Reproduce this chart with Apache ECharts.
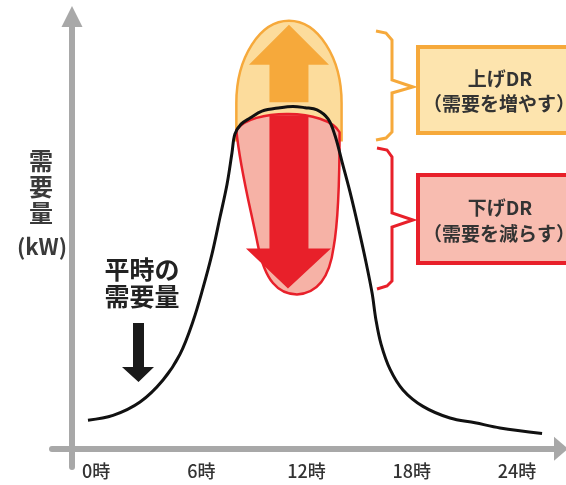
<!DOCTYPE html>
<html>
<head>
<meta charset="utf-8">
<script src="https://cdn.jsdelivr.net/npm/echarts@6/dist/echarts.min.js"></script>
<style>
html,body{margin:0;padding:0;background:#fff;}
#chart{width:566px;height:485px;}
</style>
</head>
<body>
<div id="chart"></div>
<script>
// ---- data (hours, demand in arbitrary kW units) ----
const hours  = [-0.46, 0.97, 2.51, 3.82, 4.79, 5.53, 6.10, 6.61, 7.07, 7.47, 7.75, 7.92, 8.27, 8.78, 9.46, 10.49, 11.23, 11.92, 12.60, 13.23, 13.63, 14.03, 14.48, 14.94, 15.39, 15.74, 15.96, 16.25, 16.76, 17.50, 18.64, 20.18, 21.61, 23.03, 25.43];
const demand = [6.6, 7.7, 10.8, 15.9, 21.9, 29.5, 37.2, 45.0, 53.6, 61.2, 68.4, 72.8, 75.1, 76.5, 78.1, 78.9, 79.2, 78.9, 78.4, 76.3, 72.4, 66.3, 59.4, 51.5, 43.2, 36.0, 29.8, 24.2, 18.4, 13.6, 9.8, 7.1, 6.0, 4.8, 3.5];
const tickHours = [0, 6, 12, 18, 24];
const drWindow = [8, 14];      // hours covered by the DR shapes
const upDR = [79, 99];         // 上げDR range (kW)
const downDR = [35, 79];       // 下げDR range (kW)

const chart = echarts.init(document.getElementById('chart'), null, {renderer: 'canvas'});
const AX = '#a8a8a8';
const FONT = '"Noto Sans CJK JP", "Noto Sans", sans-serif';

function renderDR(params, api) {
  const xL = api.coord([drWindow[0], 0])[0];
  const xR = api.coord([drWindow[1], 0])[0];
  const cx = (xL + xR) / 2;
  const rx = (xR - xL) / 2;
  const yTop = api.coord([0, upDR[1]])[1];
  const yPk = api.coord([0, upDR[0]])[1];
  const yBot = api.coord([0, downDR[0]])[1];
  const k = 0.5523;
  const cy = yTop + 0.95 * (yPk - yTop);
  const ry = cy - yTop;
  const ySide = yPk + 33;
  const orangePath = 'M' + xL + ' ' + ySide + ' L' + xL + ' ' + cy +
    ' C' + xL + ' ' + (cy - k * ry) + ' ' + (cx - k * rx) + ' ' + yTop + ' ' + cx + ' ' + yTop +
    ' C' + (cx + k * rx) + ' ' + yTop + ' ' + xR + ' ' + (cy - k * ry) + ' ' + xR + ' ' + cy +
    ' L' + xR + ' ' + ySide + ' Z';
  const redPath = 'M' + xL + ' ' + (yPk + 23) +
    ' C' + (xL + 14) + ' ' + (yPk + 1) + ' ' + (xR - 15) + ' ' + (yPk + 1) + ' ' + (xR - 2) + ' ' + (yPk + 25) +
    ' C' + (xR - 2) + ' ' + (yPk + 73) + ' ' + (xR - 4) + ' ' + (yPk + 118) + ' ' + (xR - 8) + ' ' + (yBot - 50) +
    ' C' + (xR - 12) + ' ' + (yBot - 20) + ' ' + (cx + 29) + ' ' + (yBot - 4) + ' ' + (cx + 8) + ' ' + (yBot - 3) +
    ' C' + (cx - 11) + ' ' + (yBot - 3) + ' ' + (cx - 24) + ' ' + (yBot - 17) + ' ' + (cx - 31) + ' ' + (yBot - 52) +
    ' C' + (cx - 39) + ' ' + (yBot - 92) + ' ' + (xL + 4) + ' ' + (yPk + 63) + ' ' + xL + ' ' + (yPk + 23) + ' Z';
  const sw = 19.5;
  const upHeadBase = yTop + 44;
  const dnHeadBase = yBot - 49;
  return {
    type: 'group',
    children: [
      {type: 'path', shape: {pathData: orangePath}, style: {fill: '#fcdc9c', stroke: '#f6a93b', lineWidth: 2.5}},
      {type: 'polygon', shape: {points: [[cx - sw, yPk - 5], [cx - sw, upHeadBase], [cx - 40, upHeadBase], [cx, yTop + 4], [cx + 40, upHeadBase], [cx + sw, upHeadBase], [cx + sw, yPk - 5]]}, style: {fill: '#f6a93b'}},
      {type: 'path', shape: {pathData: redPath}, style: {fill: '#f6b2a6', stroke: '#e8202a', lineWidth: 2.5}},
      {type: 'polygon', shape: {points: [[cx - sw, yPk + 8], [cx - sw, dnHeadBase], [cx - 43, dnHeadBase], [cx - 1, yBot - 9], [cx + 42, dnHeadBase], [cx + sw, dnHeadBase], [cx + sw, yPk + 8]]}, style: {fill: '#e8202a'}}
    ]
  };
}

const txt = (t, x, y, size, fill, align) => ({
  type: 'text', x: x, y: y, z: 20,
  style: {text: t, fill: fill || '#333', font: 'bold ' + size + 'px ' + FONT, textAlign: align || 'center', textVerticalAlign: 'middle'}
});

const option = {
  backgroundColor: '#fff',
  animation: false,
  grid: {left: 52, right: 5, top: 16.5, bottom: 18, containLabel: false, outerBoundsMode: 'none'},
  xAxis: {
    type: 'value', min: -2.51, max: 26.51,
    axisLine: {show: true, onZero: true, symbol: ['none', 'triangle'], symbolSize: [24, 14], lineStyle: {color: AX, width: 6}},
    axisTick: {show: false},
    splitLine: {show: false},
    axisLabel: {customValues: tickHours, formatter: v => v + '時', fontSize: 18, fontFamily: FONT, color: '#333', margin: -5, fontWeight: 500}
  },
  yAxis: {
    type: 'value', min: -4.23, max: 100, position: 'left', offset: -20,
    axisLine: {show: true, onZero: false, symbol: ['none', 'triangle'], symbolSize: [21, 21], lineStyle: {color: AX, width: 6}},
    axisTick: {show: false}, axisLabel: {show: false}, splitLine: {show: false}
  },
  series: [
    {type: 'custom', coordinateSystem: 'cartesian2d', data: [[drWindow[0], upDR[1]]], renderItem: renderDR, silent: true, z: 2, clip: false},
    {type: 'line', data: hours.map((h, i) => [h, demand[i]]), showSymbol: false, smooth: 0.35, z: 5,
     lineStyle: {color: '#111', width: 3}, silent: true}
  ],
  graphic: [
    // left axis title
    txt('需', 41, 161, 24, '#3a3a3a'),
    txt('要', 41, 187, 24, '#3a3a3a'),
    txt('量', 41, 213, 24, '#3a3a3a'),
    txt('(kW)', 42, 247, 22, '#3a3a3a'),
    // normal demand note
    txt('平時の', 142, 269, 25, '#222'),
    txt('需要量', 142, 296, 25, '#222'),
    {type: 'polygon', z: 20, shape: {points: [[133, 323], [144, 323], [144, 367], [154, 367], [138.5, 382], [122, 367], [133, 367]]}, style: {fill: '#1a1a1a'}},
    // brackets
    {type: 'polyline', z: 20, shape: {points: [[376, 31], [386, 33], [392, 40], [392, 80], [413, 87], [392, 93], [392, 132], [386, 138], [376, 140]], smooth: 0}, style: {stroke: '#f6a93b', lineWidth: 3, fill: null}},
    {type: 'polyline', z: 20, shape: {points: [[377, 148], [387, 150], [392, 157], [392, 213], [413, 220], [392, 227], [392, 281], [387, 286], [377, 289]], smooth: 0}, style: {stroke: '#e8202a', lineWidth: 3, fill: null}},
    // boxes
    {type: 'rect', z: 19, shape: {x: 418, y: 47, width: 170, height: 86}, style: {fill: '#fde4ae', stroke: '#f6a93b', lineWidth: 4}},
    {type: 'rect', z: 19, shape: {x: 418, y: 175, width: 170, height: 88}, style: {fill: '#f8bcb0', stroke: '#e8202a', lineWidth: 4}},
    txt('上げDR', 500, 79, 19, '#333'),
    txt('（需要を増やす）', 499, 104, 19, '#333'),
    txt('下げDR', 500, 208, 19, '#333'),
    txt('（需要を減らす）', 499, 234, 19, '#333')
  ]
};
chart.setOption(option);
</script>
</body>
</html>
